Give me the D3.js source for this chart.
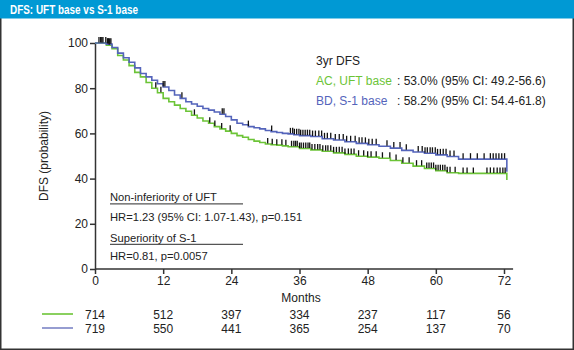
<!DOCTYPE html>
<html><head><meta charset="utf-8">
<script src="https://cdn.jsdelivr.net/npm/d3@7"></script>
<style>body{margin:0;background:#fff}svg{display:block;font-family:"Liberation Sans",Arial,sans-serif}</style>
</head><body><svg id="c" width="574" height="350"></svg>
<script>
// ---- data ----
const xTicks = [0, 12, 24, 36, 48, 60, 72];
const yTicks = [0, 20, 40, 60, 80, 100];
const uftTimes = [0,2,3,4,5,6,7,8,9,10,11,12,13,14,15,16,17,18,19,20,21,22,23,24,25,26,27,28,29,30,31,32,33,34,36,38,40,42,44,46,48,50,52,54,56,58,60,62,64,72.5,72.5];
const uftSurv  = [100,99,97.5,94.5,92.5,90,87,85,82.5,80,78,75.5,74,72.5,71,69.8,68,66.8,65.5,64.5,63,62,61,60,59,58.3,57.3,56.6,56,55.3,55,54.8,54.5,54.1,53.3,52.7,52.1,51.4,50.7,49.9,49.5,49,48,46.8,45.5,44.5,43.5,42.6,42.3,42.3,39.4];
const s1Times = [0,2,3,4,5,6,7,8,9,10,11,12,13,14,15,16,17,18,19,20,21,22,23,24,25,26,27,28,29,30,31,32,33,34,35,36,38,40,42,44,46,48,50,52,54,56,58,60,62,64,72.5,72.5];
const s1Surv  = [100,99.5,98,95.5,93.5,91.5,89,86.5,85,83.5,82,80.5,79,77,75.5,74,73,72,71,70.3,69.5,68.5,67.5,66,64.5,63.8,63,62.5,62,61.3,60.8,60.4,60,59.8,59.4,59,58.6,57.6,57.1,56.3,55.6,55,54.3,53.5,52.5,51.8,51.2,50.5,49.8,48.6,48.6,43];
const uftCensor = [1.2,2.5,10.7,11.6,17.5,20.2,21.1,22.3,23.8,30.4,31.2,32.0,32.9,33.6,34.6,35.0,35.3,35.6,36.0,36.3,36.7,37.1,37.5,37.8,38.2,38.7,39.2,39.6,40.1,40.6,41.0,41.5,42.0,42.5,43.0,43.5,44.0,44.6,45.1,45.6,46.4,47.3,48.0,48.6,49.5,50.6,51.9,53.0,54.2,55.3,56.6,57.5,58.4,58.8,59.2,59.6,60.0,60.4,60.8,61.2,61.6,62.0,62.5,63.4,64.8,65.5,66.6,69.0,69.6,70.2,70.8,71.3,71.8,72.2];
const s1Censor = [0.7,1.0,1.4,1.9,2.2,2.4,2.6,2.8,12.0,12.3,15.3,22.4,22.7,27.0,31.1,34.4,34.8,35.1,35.5,35.9,36.2,36.6,37.0,37.4,37.8,38.3,38.8,39.4,39.9,40.4,40.9,41.5,42.3,43.0,43.7,44.3,45.0,45.8,46.5,47.0,47.6,48.2,48.8,49.5,51.4,52.6,53.7,54.8,56.9,57.6,58.1,58.5,59.0,59.4,59.9,60.3,60.8,61.3,61.8,62.5,63.2,64.8,66.1,67.3,68.5,69.6,70.1,70.6,71.1,71.6,72.1];
const atRiskUFT = [714, 512, 397, 334, 237, 117, 56];
const atRiskS1  = [719, 550, 441, 365, 254, 137, 70];
const groupNames = ["AC, UFT base", "BD, S-1 base"];
const groupStats = [": 53.0% (95% CI: 49.2-56.6)", ": 58.2% (95% CI: 54.4-61.8)"];

const GREEN = "#6cc437", BLUE = "#5464bb";
const svg = d3.select("#c");
// frame & title
svg.append("rect").attr("x",0.75).attr("y",0.75).attr("width",572.5).attr("height",348.5).attr("fill","#fff").attr("stroke","#333").attr("stroke-width",1.5);
svg.append("rect").attr("x",0).attr("y",0).attr("width",574).attr("height",18.5).attr("fill","#0099d4");
svg.append("text").attr("x",10).attr("y",13.5).attr("fill","#fff").attr("font-weight","bold").attr("font-size",12.5)
  .attr("font-family","Liberation Sans Narrow, Arial Narrow, sans-serif").attr("textLength",128).attr("lengthAdjust","spacingAndGlyphs").text("DFS: UFT base vs S-1 base");

const x = d3.scaleLinear().domain([0,72]).range([95,504]);
const y = d3.scaleLinear().domain([0,100]).range([269,43]);

// axes
const gy = svg.append("g").attr("transform","translate(95,0)").call(d3.axisLeft(y).tickValues(yTicks).tickSize(5).tickSizeOuter(0));
const gx = svg.append("g").attr("transform","translate(0,269)").call(d3.axisBottom(x).tickValues(xTicks).tickSize(5).tickSizeOuter(0));
[gx,gy].forEach(g=>{g.selectAll("text").attr("font-size",12).attr("font-family","Liberation Sans, Arial, sans-serif").attr("fill","#222");
  g.selectAll("line,path").attr("stroke","#333").attr("stroke-width",1.5);});
gx.select(".domain").attr("d", `M${x(0)},0H${x(73.6)}`);
gx.selectAll("text").attr("dy","0.85em").attr("y",6);
gy.selectAll("text").attr("x",-7);

svg.append("text").attr("transform","translate(48,156) rotate(-90)").attr("text-anchor","middle").attr("font-size",12).attr("fill","#222").text("DFS (probability)");
svg.append("text").attr("x",301).attr("y",302).attr("text-anchor","middle").attr("font-size",12).attr("fill","#222").text("Months");

// curves
const line = d3.line().x(d=>x(d[0])).y(d=>y(d[1])).curve(d3.curveStepAfter);
function survAt(times, surv, t){let v=surv[0];for(let i=0;i<times.length;i++){if(times[i]<=t) v=surv[i]; else break;}return v;}
[[uftTimes,uftSurv,GREEN],[s1Times,s1Surv,BLUE]].forEach(([t,s,c])=>{
  svg.append("path").datum(t.map((d,i)=>[d,s[i]])).attr("d",line).attr("fill","none").attr("stroke",c).attr("stroke-width",1.6);
});
[[uftTimes,uftSurv,uftCensor],[s1Times,s1Surv,s1Censor]].forEach(([t,s,cen])=>{
  svg.append("g").selectAll("line").data(cen).join("line")
    .attr("x1",d=>x(d)).attr("x2",d=>x(d))
    .attr("y1",d=>y(survAt(t,s,d))-0.5).attr("y2",d=>y(survAt(t,s,d))-6)
    .attr("stroke","#111").attr("stroke-width",1.3);
});

// 3yr DFS legend text
svg.append("text").attr("x",316).attr("y",65).attr("font-size",12).attr("fill","#222").text("3yr DFS");
[GREEN,BLUE].forEach((c,i)=>{
  svg.append("text").attr("x",316).attr("y",85+i*20).attr("font-size",12).attr("fill",c).text(groupNames[i]);
  svg.append("text").attr("x",397).attr("y",85+i*20).attr("font-size",12).attr("fill","#222").text(groupStats[i]);
});

// HR annotations
const ann = [["Non-inferiority of UFT",201,true],["HR=1.23 (95% CI: 1.07-1.43), p=0.151",221,false],["Superiority of S-1",241.5,true],["HR=0.81, p=0.0057",259.5,false]];
ann.forEach(([t,yy,u])=>{
  svg.append("text").attr("x",110).attr("y",yy).attr("font-size",11.2).attr("fill","#222").text(t);
  if(u) svg.append("line").attr("x1",110).attr("x2",243).attr("y1",yy+2.8).attr("y2",yy+2.8).attr("stroke","#555").attr("stroke-width",1.3);
});

// number at risk
[[atRiskUFT,GREEN,319],[atRiskS1,"#7b85c6",333]].forEach(([arr,c,yy])=>{
  svg.append("line").attr("x1",42).attr("x2",73).attr("y1",yy-5).attr("y2",yy-5).attr("stroke",c).attr("stroke-width",1.6);
  svg.append("g").selectAll("text").data(arr).join("text").attr("x",(d,i)=>x(xTicks[i])).attr("y",yy)
    .attr("text-anchor","middle").attr("font-size",12).attr("fill","#222").text(d=>d);
});
</script></body></html>
